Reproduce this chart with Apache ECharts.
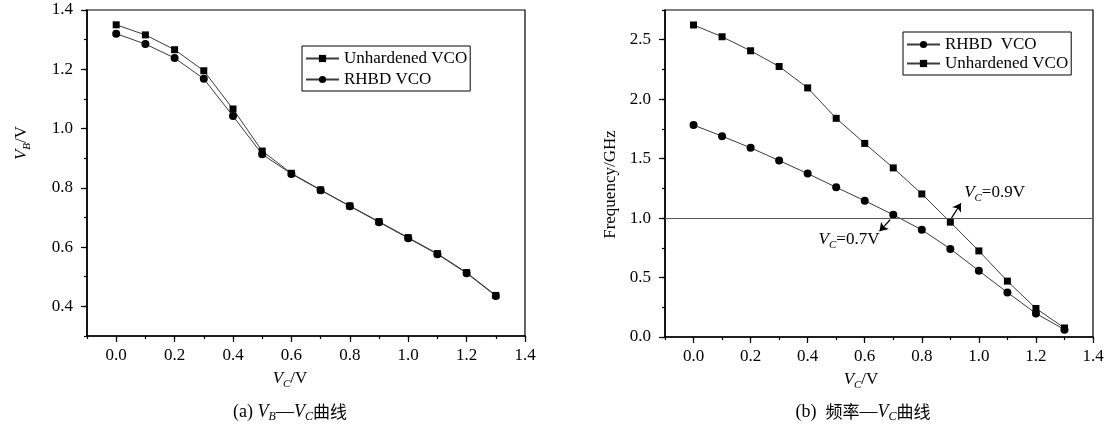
<!DOCTYPE html>
<html><head><meta charset="utf-8">
<script src="https://cdn.jsdelivr.net/npm/echarts@6/dist/echarts.min.js"></script>
<style>html,body{margin:0;padding:0;background:#fff}#c{width:1112px;height:425px}</style>
</head><body><div id="c"></div>
<script>
// ---- data ----
const vcValues = [0, 0.1, 0.2, 0.3, 0.4, 0.5, 0.6, 0.7, 0.8, 0.9, 1.0, 1.1, 1.2, 1.3];
const vbUnhardened = [1.350, 1.316, 1.266, 1.195, 1.066, 0.924, 0.849, 0.793, 0.739, 0.686, 0.632, 0.578, 0.514, 0.437];
const vbRHBD = [1.320, 1.285, 1.238, 1.168, 1.042, 0.913, 0.847, 0.792, 0.738, 0.684, 0.630, 0.576, 0.512, 0.435];
const freqRHBD = [1.782, 1.689, 1.591, 1.484, 1.374, 1.259, 1.146, 1.028, 0.901, 0.741, 0.557, 0.375, 0.198, 0.062];
const freqUnhardened = [2.624, 2.525, 2.407, 2.275, 2.095, 1.839, 1.628, 1.422, 1.203, 0.966, 0.724, 0.470, 0.240, 0.076];
const xTickLabels = [0, 0.2, 0.4, 0.6, 0.8, 1.0, 1.2, 1.4];
const vbTickLabels = [0.4, 0.6, 0.8, 1.0, 1.2, 1.4];
const freqTickLabels = [0, 0.5, 1.0, 1.5, 2.0, 2.5];
const thresholdFreq = 1.0;
const annot07 = { arrowFrom: [0.689, 0.986], arrowTo: [0.652, 0.890], label: [0.545, 0.817], text: '=0.7V' };
const annot09 = { arrowFrom: [0.904, 1.0], arrowTo: [0.937, 1.125], label: [1.055, 1.214], text: '=0.9V' };

// ---- styles ----
const serif = "'Liberation Serif', 'DejaVu Serif', serif";
const cjk = "'Noto Sans CJK SC', 'Noto Sans CJK JP', sans-serif";
function makeRich(fs) {
  return {
    i: { fontFamily: serif, fontStyle: 'italic', fontSize: fs, lineHeight: 22, color: '#000' },
    s: { fontFamily: serif, fontStyle: 'italic', fontSize: Math.round(fs * 0.65), lineHeight: 12, verticalAlign: 'bottom', color: '#000' },
    n: { fontFamily: serif, fontSize: fs, lineHeight: 22, color: '#000' },
    c: { fontFamily: cjk, fontSize: fs - 1, lineHeight: 22, color: '#000' }
  };
}
const rich17 = makeRich(17);
const rich18 = makeRich(18);
const pairs = (xs, ys) => xs.map((x, i) => [x, ys[i]]);
const fmt = v => Number(v).toFixed(1);
const lineStyle = { color: '#3a3a3a', width: 1 };

function mainX(gi, name, pad) {
  return {
    type: 'value', gridIndex: gi, min: -0.1, max: 1.4, interval: 0.1, position: 'bottom',
    axisLine: { show: true, onZero: false, lineStyle: { color: '#000', width: 1.6 } },
    axisTick: { show: true, length: 3, lineStyle: { color: '#000', width: 1.2 } },
    axisLabel: { show: false }, splitLine: { show: false },
    name: name, nameLocation: 'middle', nameGap: 32,
    nameTextStyle: { rich: rich17, padding: [0, pad, 0, 0] }
  };
}
function majorX(gi) {
  return {
    type: 'value', gridIndex: gi, min: -0.1, max: 1.4, position: 'bottom',
    axisLine: { show: false, onZero: false },
    axisTick: { show: true, length: 6, customValues: xTickLabels, lineStyle: { color: '#000', width: 1.2 } },
    axisLabel: { show: true, customValues: xTickLabels, formatter: fmt, margin: 11, fontFamily: serif, fontSize: 17, color: '#000' },
    splitLine: { show: false }
  };
}
function mainY(gi, min, max, step, name, gap, padArr) {
  return {
    type: 'value', gridIndex: gi, min: min, max: max, interval: step, position: 'left',
    axisLine: { show: true, onZero: false, lineStyle: { color: '#000', width: 1.6 } },
    axisTick: { show: true, length: 3, lineStyle: { color: '#000', width: 1.2 } },
    axisLabel: { show: false }, splitLine: { show: false },
    name: name, nameLocation: 'middle', nameRotate: 90, nameGap: gap,
    nameTextStyle: { rich: rich17, fontFamily: serif, fontSize: 17, color: '#000', padding: padArr }
  };
}
function majorY(gi, min, max, ticks) {
  return {
    type: 'value', gridIndex: gi, min: min, max: max, position: 'left',
    axisLine: { show: false, onZero: false },
    axisTick: { show: true, length: 6, customValues: ticks, lineStyle: { color: '#000', width: 1.2 } },
    axisLabel: { show: true, customValues: ticks, formatter: fmt, margin: 14, fontFamily: serif, fontSize: 17, color: '#000' },
    splitLine: { show: false }
  };
}
function legendBox(left, top, names, gap) {
  return {
    orient: 'vertical', left: left, top: top, data: names,
    itemWidth: 33, itemHeight: 9, itemGap: gap,
    textStyle: { fontFamily: serif, fontSize: 17, color: '#000', lineHeight: 17 },
    borderColor: '#000', borderWidth: 1, borderRadius: 0, padding: [4, 3, 3, 3],
    selectedMode: false
  };
}
function annotation(a) {
  return {
    markLine: {
      silent: true, animation: false, symbol: ['none', 'none'], symbolSize: 8,
      label: { show: false }, lineStyle: { color: '#000', width: 1.2, type: 'solid' },
      data: [[{ coord: a.arrowFrom }, { coord: a.arrowTo, symbol: 'arrow' }]]
    },
    markPoint: {
      silent: true, animation: false, symbol: 'circle', symbolSize: 1,
      itemStyle: { color: 'rgba(0,0,0,0)' },
      data: [{ coord: a.label, label: { show: true, position: 'inside', formatter: '{i|V}{s|C}{n|' + a.text + '}', rich: rich17 } }]
    }
  };
}

const chart = echarts.init(document.getElementById('c'), null, { renderer: 'canvas' });
const seriesRHBDRight = Object.assign({
  type: 'line', name: 'RHBD  VCO', xAxisIndex: 2, yAxisIndex: 2,
  data: pairs(vcValues, freqRHBD), symbol: 'circle', symbolSize: 8,
  lineStyle: lineStyle, itemStyle: { color: '#000' }
}, annotation(annot07));
seriesRHBDRight.markLine.data.unshift({ yAxis: thresholdFreq, lineStyle: { color: '#555', width: 1 } });

chart.setOption({
  animation: false,
  backgroundColor: '#fff',
  grid: [
    { left: 87, right: 587, top: 10, bottom: 89, show: true, borderColor: '#000', borderWidth: 1.2, backgroundColor: 'transparent' },
    { left: 665, right: 19, top: 10, bottom: 88, show: true, borderColor: '#000', borderWidth: 1.2, backgroundColor: 'transparent' }
  ],
  legend: [
    legendBox(302, 46, ['Unhardened VCO', 'RHBD VCO'], 4),
    legendBox(903, 32, ['RHBD  VCO', 'Unhardened VCO'], 2)
  ],
  xAxis: [mainX(0, '{i|V}{s|C}{n|/V}', 32), majorX(0), mainX(1, '{i|V}{s|C}{n|/V}', 36), majorX(1)],
  yAxis: [
    mainY(0, 0.3, 1.4, 0.1, '{i|V}{s|B}{n|/V}', 54, [0, 0, 0, 60]), majorY(0, 0.3, 1.4, vbTickLabels),
    mainY(1, 0, 2.75, 0.25, 'Frequency/GHz', 46, [0, 22, 0, 0]), majorY(1, 0, 2.75, freqTickLabels)
  ],
  series: [
    { type: 'line', name: 'Unhardened VCO', xAxisIndex: 0, yAxisIndex: 0, data: pairs(vcValues, vbUnhardened),
      symbol: 'rect', symbolSize: 7, lineStyle: lineStyle, itemStyle: { color: '#000' } },
    { type: 'line', name: 'RHBD VCO', xAxisIndex: 0, yAxisIndex: 0, data: pairs(vcValues, vbRHBD),
      symbol: 'circle', symbolSize: 8, lineStyle: lineStyle, itemStyle: { color: '#000' } },
    seriesRHBDRight,
    Object.assign({ type: 'line', name: 'Unhardened VCO', xAxisIndex: 2, yAxisIndex: 2, data: pairs(vcValues, freqUnhardened),
      symbol: 'rect', symbolSize: 7, lineStyle: lineStyle, itemStyle: { color: '#000' } }, annotation(annot09))
  ],
  graphic: [
    { type: 'text', x: 290, y: 412, style: { text: '{n|(a) }{i|V}{s|B}{n|—}{i|V}{s|C}{c|曲线}', rich: rich18, align: 'center', verticalAlign: 'middle' } },
    { type: 'text', x: 863, y: 412, style: { text: '{n|(b)  }{c|频率}{n|—}{i|V}{s|C}{c|曲线}', rich: rich18, align: 'center', verticalAlign: 'middle' } }
  ]
});
</script></body></html>
